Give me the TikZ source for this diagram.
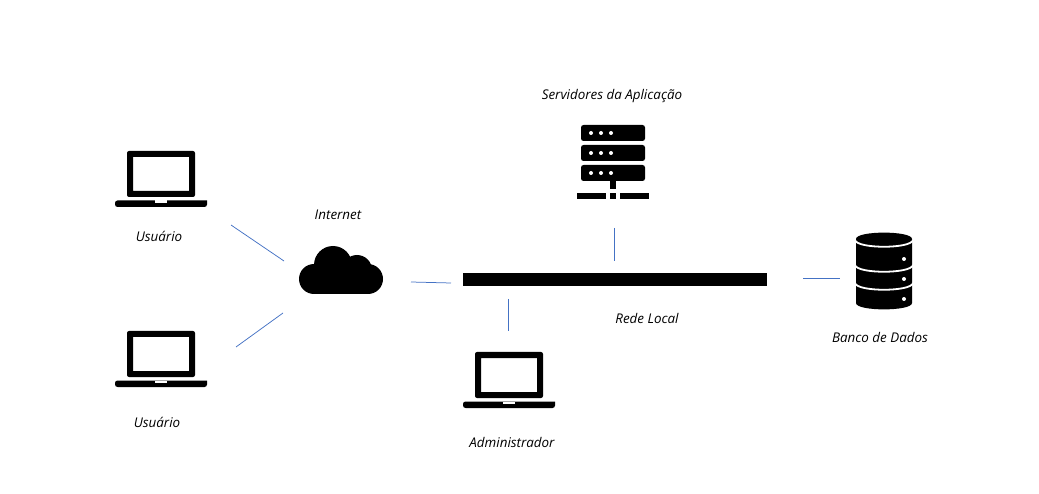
\documentclass[tikz,border=0pt]{standalone}
\usepackage{fontspec}
\setmainfont{Open Sans}
\usepackage{xcolor}
\usepackage{tikz}
\usetikzlibrary{positioning,calc}
\definecolor{linkblue}{RGB}{68,114,196}
\tikzset{
  iconbox/.style = {inner sep=0pt, outer sep=0pt},
  lbl/.style     = {font=\fontsize{13.4}{15}\selectfont\itshape, inner sep=0pt, text height=10pt, text depth=3pt},
  link/.style    = {draw=linkblue, line width=0.75pt},
  laptop/.pic = {
    \fill[black, rounded corners=2pt, even odd rule] (-34,18) rectangle (34,-28) (-28,12) [sharp corners] rectangle (28,-22);
    \fill[black, rounded corners=2.5pt] (-46,21.5) [sharp corners] -- (46,21.5) [rounded corners=2.5pt] -- (46,28) -- (-46,28) -- cycle;
    \fill[white] (-6,21.5) rectangle (6,24);
  },
  cloudicon/.pic = {
    \fill[black] (-27,9) circle[radius=15];
    \fill[black] (-8,-5) circle[radius=19];
    \fill[black] (16,0) circle[radius=15];
    \fill[black] (27,9) circle[radius=15];
    \fill[black] (-27,0) rectangle (27,24);
  },
  serverrack/.pic = {
    \fill[black, rounded corners=2.5pt] (-32,-8) rectangle (32,8);
    \foreach \dotx in {-22,-12,-2} \fill[white] (\dotx,0) circle[radius=2];
  },
  servericon/.pic = {
    \pic at (0,-29) {serverrack};
    \pic at (0,-9) {serverrack};
    \pic at (0,11) {serverrack};
    \fill[black] (-3,19) rectangle (3,27);
    \fill[black] (-3,31) rectangle (3,37);
    \fill[black] (-36,31) rectangle (-7,37);
    \fill[black] (7,31) rectangle (36,37);
  },
  dbicon/.pic = {
    \fill[black] (-28,-32) -- (-28,32) .. controls (-28,40.5) and (28,40.5) .. (28,32) -- (28,-32)
      .. controls (28,-40.5) and (-28,-40.5) .. (-28,-32) -- cycle;
    \foreach \gapy in {-31,-6,12}
      \draw[white, line width=1.8pt] (-29,\gapy) .. controls (-27,\gapy+9) and (27,\gapy+9) .. (29,\gapy);
    \foreach \doty in {-12,8,28} \fill[white] (20,\doty) circle[radius=2];
  },
}

\begin{document}
\begin{tikzpicture}[x=1pt, y=-1pt]
  \useasboundingbox (0,0) rectangle (1039,494);
  % icons
  \node[iconbox, minimum width=92pt, minimum height=56pt] (user1) at (161,179) {};
  \node[iconbox, minimum width=92pt, minimum height=56pt] (user2) at (161,359) {};
  \node[iconbox, minimum width=92pt, minimum height=56pt] (admin) at (509,380) {};
  \node[iconbox, minimum width=84pt, minimum height=48pt] (cloud) at (341,270) {};
  \node[iconbox, minimum width=72pt, minimum height=74pt] (server) at (613,162) {};
  \node[iconbox, minimum width=56pt, minimum height=76pt] (db) at (884,271) {};
  \node[iconbox, fill=black, minimum width=304pt, minimum height=13pt] (lan) at (615,279.5) {};
  \pic at (user1) {laptop};
  \pic at (user2) {laptop};
  \pic at (admin) {laptop};
  \pic at (cloud) {cloudicon};
  \pic at (server) {servericon};
  \pic at (db) {dbicon};
  % labels
  \node[lbl, below=24pt of user1, xshift=-2pt] (user1txt) {Usuário};
  \node[lbl, below=30pt of user2, xshift=-4pt] (user2txt) {Usuário};
  \node[lbl, below=29pt of admin, xshift=3pt] (admintxt) {Administrador};
  \node[lbl, above=23.5pt of cloud, xshift=-3pt] (cloudtxt) {Internet};
  \node[lbl, above=22pt of server, xshift=-1pt] (servertxt) {Servidores da Aplicação};
  \node[lbl, below=27pt of lan, xshift=32pt] (lantxt) {Rede Local};
  \node[lbl, below=23pt of db, xshift=-4pt] (dbtxt) {Banco de Dados};
  % free ends
  \coordinate (user1out) at (231,225);
  \coordinate (user2out) at (236,347);
  \coordinate (cloudin1) at (284,261);
  \coordinate (cloudin2) at (283,313);
  \coordinate (cloudout) at (411,282);
  \coordinate (lanin) at (451,283);
  % links
  \draw[link] (user1out) -- (cloudin1);
  \draw[link] (user2out) -- (cloudin2);
  \draw[link] (cloudout) -- (lanin);
  \draw[link, shorten <=29pt, shorten >=12pt] ($(server.south)+(1,0)$) -- ($(lan.north -| server.south)+(1,0)$);
  \draw[link, shorten <=13pt, shorten >=21pt] ($(lan.south -| admin.north)+(-1,0)$) -- ($(admin.north)+(-1,0)$);
  \draw[link, shorten <=36pt, shorten >=16pt] (lan.east |- 0,278) -- (db.west |- 0,278);
\end{tikzpicture}
\end{document}
